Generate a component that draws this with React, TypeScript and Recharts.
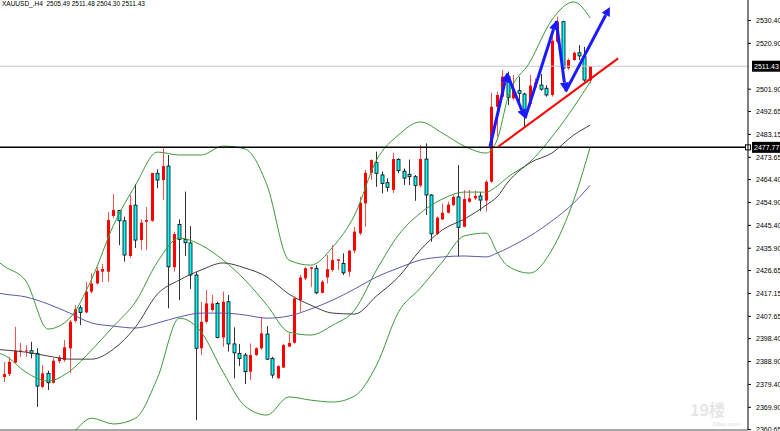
import { ComposedChart, Bar, Line, XAxis, YAxis, ReferenceLine } from 'recharts';

// XAUUSD H4 candles, index 0..107 (oldest -> newest)
const opens = [
  2382.5, 2383.7, 2388.4, 2393.4, 2393.3, 2393.4, 2392.3, 2378.4, 2384.0, 2380.1,
  2389.1, 2389.5, 2394.4, 2405.8, 2411.2, 2409.3, 2417.9, 2421.3, 2426.2, 2426.2,
  2449.3, 2451.6, 2447.3, 2432.7, 2453.8, 2439.3, 2446.9, 2447.3, 2467.0, 2464.2,
  2470.0, 2428.0, 2445.8, 2439.6, 2438.1, 2424.8, 2394.4, 2405.4, 2410.3, 2413.0,
  2398.9, 2413.7, 2396.2, 2392.3, 2391.6, 2384.7, 2391.6, 2394.4, 2400.3, 2390.2,
  2382.0, 2386.4, 2395.1, 2396.7, 2414.4, 2423.4, 2427.4, 2427.6, 2417.4, 2423.8,
  2426.9, 2430.7, 2429.6, 2426.2, 2434.9, 2442.1, 2454.5, 2467.2, 2471.4, 2466.3,
  2463.1, 2460.1, 2472.8, 2467.9, 2466.6, 2465.6, 2461.9, 2472.9, 2458.0, 2441.9,
  2447.9, 2450.6, 2453.8, 2457.2, 2444.8, 2455.2, 2456.6, 2457.6, 2455.7, 2463.5,
  2494.6, 2498.8, 2507.1, 2498.1, 2501.3, 2499.9, 2495.8, 2502.7, 2503.6, 2502.3,
  2499.5, 2521.6, 2529.9, 2510.6, 2514.0, 2517.0, 2515.4, 2505.49,
];
const highs = [
  2388.7, 2390.8, 2403.3, 2396.6, 2395.7, 2397.1, 2394.4, 2387.4, 2385.1, 2390.3,
  2391.6, 2397.8, 2406.1, 2412.3, 2412.3, 2422.0, 2425.5, 2428.2, 2429.4, 2450.9,
  2458.4, 2451.8, 2449.0, 2458.0, 2462.6, 2447.9, 2453.0, 2467.2, 2468.7, 2478.0,
  2474.6, 2442.8, 2447.9, 2459.4, 2445.1, 2426.0, 2413.6, 2418.6, 2416.5, 2413.7,
  2417.9, 2416.5, 2403.1, 2396.2, 2392.5, 2396.4, 2394.8, 2407.5, 2403.6, 2390.9,
  2387.4, 2396.2, 2400.7, 2415.8, 2424.8, 2428.2, 2428.2, 2428.9, 2422.7, 2433.1,
  2437.2, 2431.4, 2433.8, 2435.2, 2444.8, 2457.3, 2468.4, 2472.8, 2476.0, 2467.7,
  2464.9, 2475.5, 2473.2, 2469.0, 2472.7, 2466.3, 2478.7, 2479.4, 2458.4, 2449.1,
  2454.5, 2455.2, 2458.0, 2470.4, 2460.1, 2460.1, 2459.8, 2459.2, 2464.2, 2500.4,
  2500.9, 2509.9, 2509.2, 2507.8, 2507.1, 2500.4, 2507.8, 2506.4, 2508.2, 2503.6,
  2524.0, 2532.0, 2530.3, 2514.7, 2517.5, 2520.2, 2519.5, 2511.48,
];
const lows = [
  2380.4, 2382.9, 2388.3, 2390.8, 2390.8, 2390.2, 2370.1, 2377.9, 2377.1, 2379.8,
  2388.1, 2388.8, 2384.0, 2405.0, 2404.0, 2408.9, 2417.2, 2420.9, 2421.9, 2421.9,
  2448.4, 2437.2, 2430.3, 2431.8, 2436.0, 2435.2, 2435.2, 2446.9, 2460.8, 2455.9,
  2411.0, 2426.2, 2414.4, 2432.7, 2419.0, 2364.6, 2391.6, 2404.7, 2409.6, 2398.5,
  2395.0, 2393.0, 2381.9, 2387.0, 2379.6, 2381.2, 2391.2, 2393.7, 2389.5, 2381.9,
  2381.5, 2386.2, 2394.9, 2396.4, 2409.6, 2422.7, 2419.9, 2416.9, 2417.2, 2421.3,
  2426.2, 2426.9, 2424.8, 2424.1, 2433.8, 2441.4, 2444.8, 2464.2, 2461.4, 2458.7,
  2459.4, 2458.8, 2467.0, 2462.1, 2462.1, 2455.6, 2461.3, 2449.7, 2438.6, 2441.4,
  2447.6, 2450.4, 2453.4, 2432.4, 2444.6, 2454.8, 2455.9, 2451.3, 2451.1, 2463.1,
  2482.2, 2498.1, 2495.3, 2497.4, 2495.3, 2486.3, 2494.6, 2501.6, 2501.3, 2498.8,
  2498.8, 2520.9, 2509.9, 2509.9, 2513.7, 2514.0, 2505.0, 2504.30,
];
const closes = [
  2383.7, 2388.8, 2393.4, 2393.5, 2393.5, 2392.3, 2378.7, 2384.0, 2380.1, 2389.2,
  2390.6, 2394.8, 2405.4, 2410.6, 2409.3, 2417.9, 2421.3, 2426.6, 2427.3, 2447.6,
  2451.8, 2447.3, 2433.1, 2453.8, 2439.3, 2446.5, 2447.6, 2467.1, 2464.2, 2470.0,
  2428.2, 2441.8, 2439.6, 2438.2, 2424.8, 2394.4, 2405.4, 2413.0, 2413.0, 2398.9,
  2413.7, 2396.2, 2392.5, 2390.2, 2384.7, 2391.6, 2394.4, 2400.6, 2389.9, 2383.3,
  2387.0, 2395.7, 2396.6, 2415.1, 2423.8, 2427.6, 2428.0, 2417.4, 2422.0, 2427.2,
  2431.0, 2431.3, 2425.7, 2434.9, 2442.8, 2454.8, 2467.2, 2472.5, 2467.0, 2462.8,
  2461.2, 2472.9, 2468.1, 2465.0, 2465.6, 2461.9, 2472.9, 2458.0, 2441.9, 2448.6,
  2450.6, 2454.0, 2457.2, 2444.6, 2456.3, 2456.6, 2457.6, 2455.9, 2463.5, 2494.6,
  2499.5, 2507.1, 2498.5, 2501.6, 2500.2, 2491.2, 2503.4, 2504.6, 2501.9, 2499.5,
  2522.0, 2529.9, 2510.6, 2514.0, 2517.0, 2515.7, 2505.7, 2511.43,
];

// indicator readings at these candle indices (-1 = bar just off the left edge)
const sampleIdx = [-1, 0, 4, 8, 12, 16, 20, 24, 28, 32, 36, 40, 44, 48, 52, 56, 60, 64, 68, 72, 76, 80, 84, 88, 90, 92, 96, 100, 104, 107];
const bbUpper = [
  2430.2, 2428.5, 2422.3, 2402.4, 2406.9, 2423.1, 2445.5, 2462.1, 2475.8, 2474.6, 2474.6,
  2478.3, 2477.1, 2462.1, 2431.0, 2428.9, 2436.4, 2449.7, 2472.5, 2482.9, 2488.3,
  2483.7, 2478.3, 2475.4, 2480.8, 2498.7, 2513.2, 2530.6, 2538.1, 2531.4,
];
const bbMiddle = [
  2392.4, 2391.6, 2384.5, 2380.8, 2384.9, 2393.7, 2403.6, 2413.6, 2430.2, 2440.1, 2437.2,
  2431.0, 2422.7, 2412.3, 2401.1, 2399.9, 2404.0, 2410.3, 2426.9, 2441.4, 2450.5,
  2456.3, 2459.2, 2459.2, 2461.7, 2465.5, 2471.7, 2482.1, 2494.5, 2504.9,
];
const bbLower = [
  2354.2, 2352.6, 2346.8, 2355.0, 2358.5, 2365.4, 2363.0, 2365.4, 2382.0, 2406.9, 2401.1,
  2384.5, 2370.4, 2366.7, 2374.2, 2372.9, 2372.1, 2374.6, 2387.4, 2409.4, 2419.4,
  2430.2, 2441.0, 2442.2, 2434.3, 2428.5, 2425.6, 2435.2, 2455.9, 2477.9,
];
const maBlack = [
  2393.9, 2393.7, 2392.8, 2391.2, 2389.9, 2389.9, 2394.1, 2403.2, 2416.9, 2422.7, 2426.9,
  2429.8, 2427.7, 2424.0, 2416.9, 2412.3, 2409.0, 2408.6, 2416.1, 2424.0, 2435.2,
  2443.5, 2448.0, 2453.8, 2457.2, 2463.4, 2471.3, 2475.4, 2482.9, 2487.0,
];
const maBlue = [
  2417.3, 2416.9, 2415.7, 2412.8, 2409.0, 2404.9, 2403.6, 2402.8, 2404.9, 2407.4, 2409.0,
  2409.0, 2408.2, 2406.9, 2407.8, 2410.7, 2414.4, 2419.0, 2424.0, 2427.7, 2431.0,
  2432.3, 2432.7, 2432.3, 2433.9, 2436.0, 2441.0, 2447.2, 2454.7, 2462.1,
];

const yTicks = [
  2530.4, 2520.9, 2501.9, 2492.65, 2483.15, 2473.65, 2464.4, 2454.9, 2445.4, 2435.9,
  2426.65, 2417.15, 2407.65, 2398.4, 2388.9, 2379.4, 2369.9, 2360.65,
];

const bidPrice = 2511.43;
const levelPrice = 2477.77;

// hand-drawn annotations: candle index + price
const zigzag = [
  { x: 88.7, y: 2478.0 },
  { x: 91.8, y: 2508.5 },
  { x: 95.1, y: 2489.8 },
  { x: 100.8, y: 2530.3 },
  { x: 102.5, y: 2500.9 },
  { x: 110.6, y: 2536.0 },
];
const trendLine = [
  { x: 90.2, y: 2478.0 },
  { x: 112.1, y: 2514.7 },
];

const candles = opens.map((open, i) => ({
  i,
  open,
  high: highs[i],
  low: lows[i],
  close: closes[i],
  range: [lows[i], highs[i]],
}));

const indicators = sampleIdx.map((i, k) => ({
  i,
  up: bbUpper[k],
  mid: bbMiddle[k],
  lo: bbLower[k],
  ma1: maBlack[k],
  ma2: maBlue[k],
}));

const Candle = (props: any) => {
  const { x, y, width, height, payload } = props;
  if (!payload || height == null) return null;
  const { open, high, low, close } = payload;
  const k = high === low ? 0 : height / (high - low);
  const yOf = (v: number) => y + (high - v) * k;
  const cx = Math.floor(x + width / 2) + 0.5;
  const isUp = close >= open;
  const top = yOf(Math.max(open, close));
  const bot = yOf(Math.min(open, close));
  const h = Math.max(1, bot - top);
  if (isUp) {
    return (
      <g>
        <line x1={cx} x2={cx} y1={y} y2={y + height} stroke="#ff5050" strokeWidth={1} />
        <rect x={cx - 1.5} y={top} width={3} height={h} fill="#ff0000" />
      </g>
    );
  }
  return (
    <g>
      <line x1={cx} x2={cx} y1={y} y2={y + height} stroke="#333" strokeWidth={1} />
      <rect x={cx - 1.5} y={top} width={3} height={h} fill="#00ffff" stroke="#000" strokeWidth={0.8} />
    </g>
  );
};

const arrowShape = (p: any) => {
  const { x1, y1, x2, y2 } = p;
  const ang = Math.atan2(y2 - y1, x2 - x1);
  const L = 9;
  const W = 4.5;
  const bx = x2 - L * Math.cos(ang);
  const by = y2 - L * Math.sin(ang);
  const pts = [
    [x2, y2],
    [bx + W * Math.sin(ang), by - W * Math.cos(ang)],
    [bx - W * Math.sin(ang), by + W * Math.cos(ang)],
  ]
    .map((q) => q.join(','))
    .join(' ');
  return (
    <g>
      <line x1={x1} y1={y1} x2={bx} y2={by} stroke="#1a1aff" strokeWidth={3} />
      <polygon points={pts} fill="#1a1aff" />
    </g>
  );
};

const priceTag = (text: string, marker: boolean) => (props: any) => {
  const vb = props.viewBox || {};
  const yy = vb.y;
  const xr = vb.x + vb.width;
  return (
    <g>
      <rect x={xr + 4} y={yy - 5.5} width={29} height={11} fill="#000" />
      <text x={xr + 6} y={yy + 3} fill="#fff" fontSize={7} fontFamily="Liberation Sans, Arial, sans-serif">
        {text}
      </text>
      {marker && <rect x={xr - 2.5} y={yy - 2.5} width={5} height={5} fill="#fff" stroke="#000" strokeWidth={1} />}
    </g>
  );
};

const App = () => {
  return (
    <div style={{ position: 'absolute', left: 0, top: 0, width: 780, height: 431, background: '#fff' }}>
      <ComposedChart width={780} height={431} data={candles} margin={{ top: 0, right: 0, bottom: 0, left: 0 }}>
        <XAxis
          type="number"
          dataKey="i"
          domain={[-0.73, 135.8]}
          allowDataOverflow
          tick={false}
          tickLine={false}
          axisLine={{ stroke: '#505050' }}
          height={1}
        />
        <YAxis
          orientation="right"
          width={32}
          domain={[2360.5, 2538.9]}
          allowDataOverflow
          ticks={yTicks}
          interval={0}
          tickFormatter={(v: number) => v.toFixed(2)}
          tick={{ fontSize: 7, fill: '#000', fontFamily: 'Liberation Sans, Arial, sans-serif' }}
          tickSize={3}
          tickMargin={5}
          axisLine={{ stroke: '#000' }}
          tickLine={{ stroke: '#000' }}
        />
        <ReferenceLine y={bidPrice} stroke="#c8c8c8" strokeWidth={1} label={priceTag(bidPrice.toFixed(2), false)} />
        <Line data={indicators} type="monotone" dataKey="up" stroke="#3a9a3a" strokeWidth={1} dot={false} activeDot={false} isAnimationActive={false} />
        <Line data={indicators} type="monotone" dataKey="mid" stroke="#3a9a3a" strokeWidth={1} dot={false} activeDot={false} isAnimationActive={false} />
        <Line data={indicators} type="monotone" dataKey="lo" stroke="#3a9a3a" strokeWidth={1} dot={false} activeDot={false} isAnimationActive={false} />
        <Line data={indicators} type="monotone" dataKey="ma2" stroke="#5a5aa8" strokeWidth={1} dot={false} activeDot={false} isAnimationActive={false} />
        <Line data={indicators} type="monotone" dataKey="ma1" stroke="#404040" strokeWidth={1} dot={false} activeDot={false} isAnimationActive={false} />
        <Bar dataKey="range" barSize={4} shape={Candle} isAnimationActive={false} />
        <ReferenceLine y={levelPrice} stroke="#000" strokeWidth={1.5} label={priceTag(levelPrice.toFixed(2), true)} />
        <ReferenceLine segment={trendLine} stroke="#ff0000" strokeWidth={2} />
        {zigzag.slice(1).map((pt, k) => (
          <ReferenceLine key={k} segment={[zigzag[k], pt]} shape={arrowShape} />
        ))}
      </ComposedChart>
      <div
        style={{
          position: 'absolute',
          left: 2,
          top: 0,
          fontSize: 6.5,
          fontFamily: 'Liberation Sans, Arial, sans-serif',
          color: '#000',
          whiteSpace: 'pre',
        }}
      >
        {'XAUUSD_,H4  2505.49 2511.48 2504.30 2511.43'}
      </div>
      <div
        style={{
          position: 'absolute',
          left: 690,
          top: 400,
          fontSize: 16,
          fontWeight: 'bold',
          fontFamily: 'Noto Sans CJK SC, sans-serif',
          color: '#e6e6e6',
          lineHeight: '18px',
        }}
      >
        19楼
      </div>
      <div
        style={{
          position: 'absolute',
          left: 712,
          top: 420,
          fontSize: 6,
          lineHeight: '8px',
          fontFamily: 'Liberation Sans, Arial, sans-serif',
          color: '#dcdcdc',
        }}
      >
        19lou.com
      </div>
    </div>
  );
};

export default App;
